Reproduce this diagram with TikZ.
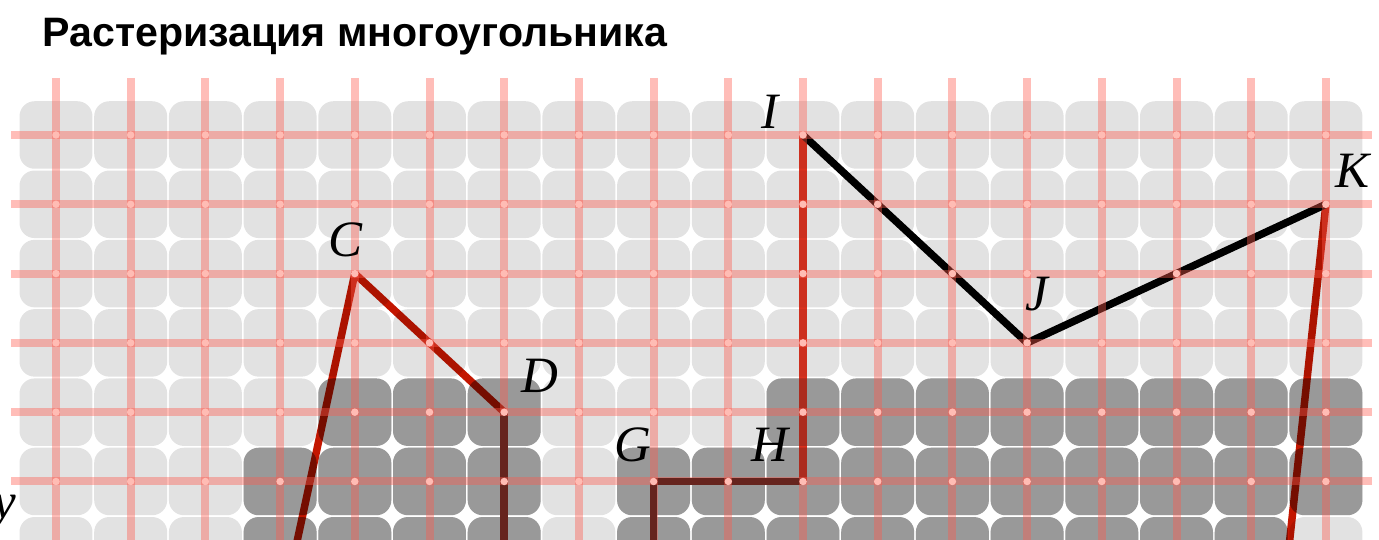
\documentclass[tikz,border=0pt]{standalone}
\usepackage{fontspec}
\setmainfont{Liberation Serif}
\newfontfamily\titlefont{Liberation Sans}
\usepackage{tikz}
\usetikzlibrary{positioning}
\usepackage{xcolor}
\definecolor{lightcell}{RGB}{226,226,226}
\definecolor{darkcell}{RGB}{153,153,153}
\definecolor{gridred}{RGB}{255,90,77}
\definecolor{dotpink}{RGB}{255,188,180}
\definecolor{edgered}{RGB}{195,22,0}

\begin{document}
\begin{tikzpicture}[x=1.494cm, y=-1.386cm,
    cell/.style={rounded corners=0.3cm},
    gridline/.style={gridred, opacity=0.4, line width=0.16cm},
    polyedge/.style={line width=0.15cm, line join=round},
    vlabel/.style={font=\fontsize{29}{32}\selectfont\itshape, inner sep=0pt}]
        \clip (-0.7497,-1.948) rectangle (17.711,5.830);
        % Title
        \node[anchor=base west, inner sep=0pt,
          font=\titlefont\bfseries\fontsize{23.4}{27}\selectfont] (title)
          at (-0.187,-1.27) {Растеризация многоугольника};
        % Pixels
        \foreach \i in {0,...,17} {
          \foreach \j in {0,...,6} {
            \fill[lightcell, cell] (\i-0.4885,\j-0.487) rectangle (\i+0.4885,\j+0.487);
          }
        }
        \foreach \j/\a/\b in {4/4/6, 4/10/17, 5/3/6, 5/8/17, 6/3/6, 6/8/16} {
          \foreach \i in {\a,...,\b} {
            \fill[darkcell, cell] (\i-0.4885,\j-0.487) rectangle (\i+0.4885,\j+0.487);
          }
        }
        % Polygon vertices
        \coordinate (B) at (3,7);
        \coordinate (C) at (4,2);
        \coordinate (D) at (6,4);
        \coordinate (E) at (6,7);
        \coordinate (F) at (8,7);
        \coordinate (G) at (8,5);
        \coordinate (H) at (10,5);
        \coordinate (I) at (10,0);
        \coordinate (J) at (13,3);
        \coordinate (K) at (17,1);
        \coordinate (L) at (16,11);
        % Polygon edges
        \begin{scope}[blend mode=multiply]
          \draw[polyedge, edgered] (B) -- (C) -- (D);
          \draw[polyedge, edgered] (H) -- (I);
          \draw[polyedge, edgered] (K) -- (L);
        \end{scope}
        \draw[polyedge] (D) -- (E);
        \draw[polyedge] (F) -- (G) -- (H);
        \draw[polyedge] (I) -- (J) -- (K);
        % Sample grid
        \foreach \i in {0,...,17} {
          \draw[gridline] (\i,-0.823) -- (\i,6.5);
        }
        \foreach \j in {0,...,5} {
          \draw[gridline] (-0.602,\j) -- (17.617,\j);
        }
        \foreach \i in {0,...,17} {
          \foreach \j in {0,...,5} {
            \fill[dotpink] (\i,\j) circle[radius=0.075cm];
          }
        }
        % Vertex labels
        \node[vlabel] (labC) at (3.882,1.515) {C};
        \node[vlabel] (labD) at (6.479,3.478) {D};
        \node[vlabel] (labG) at (7.724,4.473) {G};
        \node[vlabel] (labH) at (9.558,4.473) {H};
        \node[vlabel] (labI) at (9.558,-0.332) {I};
        \node[vlabel] (labJ) at (13.13,2.294) {J};
        \node[vlabel] (labK) at (17.36,0.52) {K};
        \node[vlabel, anchor=base east] (laby) at (-0.535,5.527) {y};
      \end{tikzpicture}
\end{document}
